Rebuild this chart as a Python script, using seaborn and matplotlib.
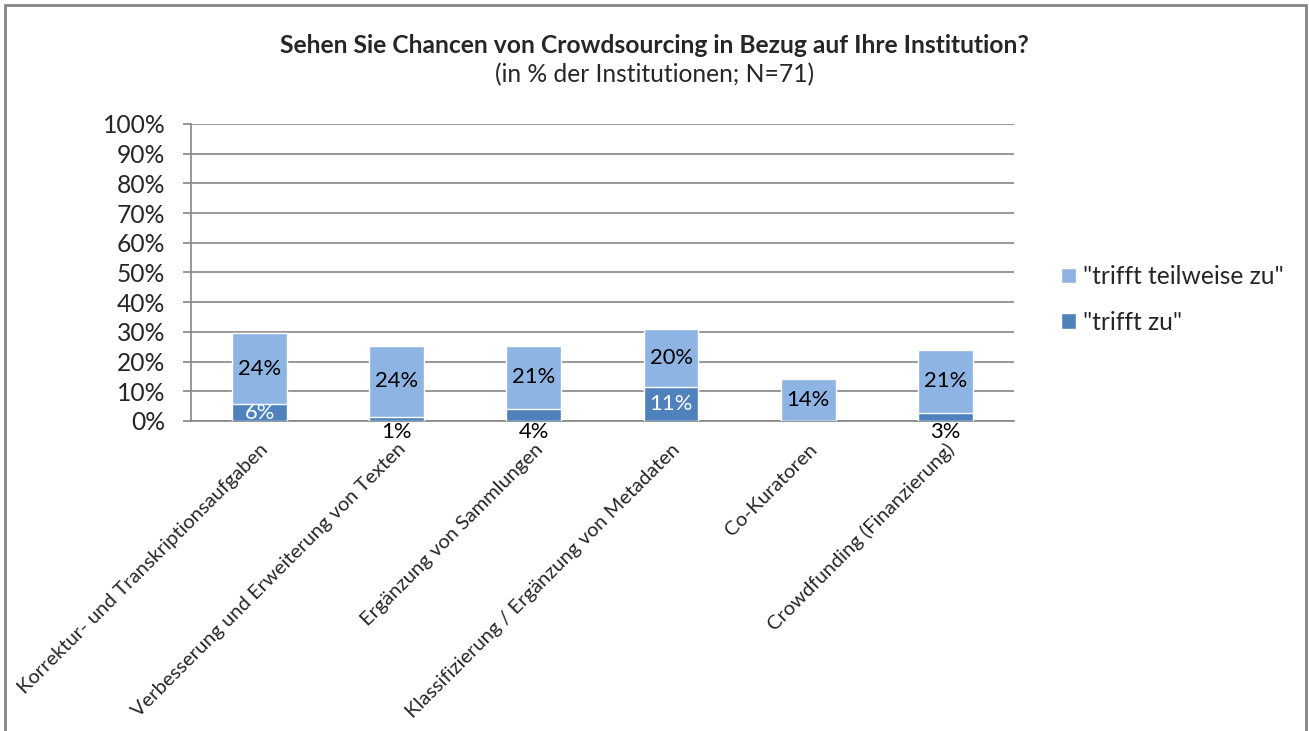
import pandas as pd
import numpy as np
import seaborn as sns
import matplotlib.pyplot as plt
from matplotlib.patches import Patch, Rectangle

kategorien = ['Korrektur- und Transkriptionsaufgaben',
              'Verbesserung und Erweiterung von Texten',
              'Ergänzung von Sammlungen',
              'Klassifizierung / Ergänzung von Metadaten',
              'Co-Kuratoren',
              'Crowdfunding (Finanzierung)']
trifft_zu = [5.6, 1.4, 4.2, 11.3, 0.0, 2.8]
teilweise = [23.9, 23.9, 21.1, 19.7, 14.1, 21.1]

hell = '#8EB4E3'
dunkel = '#4F81BD'
grau = '#868686'

df = pd.DataFrame({'kategorie': kategorien,
                   'zu': trifft_zu,
                   'teilweise': teilweise})
df['gesamt'] = df['zu'] + df['teilweise']

sns.set_style('white')
plt.rcParams['font.family'] = ['Lato', 'DejaVu Sans']

fig = plt.figure(figsize=(13.09, 7.31), dpi=100)
ax = fig.add_axes([0.1459, 0.4241, 0.6287, 0.4063])

sns.barplot(data=df, x='kategorie', y='gesamt', color=hell, width=0.4,
            saturation=1, ax=ax, zorder=3)
sns.barplot(data=df, x='kategorie', y='zu', color=dunkel, width=0.4,
            saturation=1, ax=ax, zorder=3)

ax.set_ylim(0, 100)
ax.set_xlim(-0.5, len(kategorien) - 0.5)
ax.set_yticks(np.arange(0, 101, 10))
ax.set_yticklabels([f'{v}%' for v in range(0, 101, 10)], fontsize=17.7)
ax.yaxis.grid(True, color=grau, linewidth=1.2, zorder=0)
ax.set_xlabel('')
ax.set_ylabel('')
for s in ['top', 'right']:
    ax.spines[s].set_visible(False)
for s in ['left', 'bottom']:
    ax.spines[s].set_color(grau)
    ax.spines[s].set_linewidth(1.2)

ax.set_xticks(np.arange(-0.5, len(kategorien)), minor=True)
ax.tick_params(axis='x', which='major', length=0, pad=14)
ax.tick_params(axis='x', which='minor', length=6, color=grau, width=1.2)
ax.tick_params(axis='y', length=6, color=grau, width=1.2, left=True, pad=12.5)
ax.set_xticks(range(len(kategorien)))
ax.set_xticklabels(kategorien, rotation=45, ha='right', va='top',
                   rotation_mode='anchor', fontsize=14.5)

# Beschriftungen
for i, (z, t) in enumerate(zip(trifft_zu, teilweise)):
    ax.text(i, z + t / 2, f'{round(t)}%', ha='center', va='center',
            fontsize=15.8, color='black', zorder=4)
    if z >= 5:
        ax.text(i, z / 2, f'{round(z)}%', ha='center', va='center',
                fontsize=15.8, color='white', zorder=4)
    elif z > 0:
        ax.text(i, -3.7, f'{round(z)}%', ha='center', va='center',
                fontsize=15.8, color='black', zorder=4)

fig.text(0.5, 0.938, 'Sehen Sie Chancen von Crowdsourcing in Bezug auf Ihre Institution?',
         ha='center', va='center', fontsize=17.7, fontweight='bold')
fig.text(0.5, 0.898, '(in % der Institutionen; N=71)', ha='center', va='center',
         fontsize=17.7)

handles = [Patch(facecolor=hell, label='"trifft teilweise zu"'),
           Patch(facecolor=dunkel, label='"trifft zu"')]
fig.legend(handles=handles, loc='center left', bbox_to_anchor=(0.8105, 0.5903),
           frameon=False, fontsize=17.7, handlelength=0.61, handleheight=0.61,
           handletextpad=0.28, labelspacing=0.92, borderpad=0, borderaxespad=0)

# Rahmen
fig.patches.append(Rectangle((5 / 1309, -0.01), 1301 / 1309, 1 - 5 / 731 + 0.01,
                             transform=fig.transFigure, fill=False,
                             edgecolor=grau, linewidth=2))

fig.savefig('out.png', dpi=100)
